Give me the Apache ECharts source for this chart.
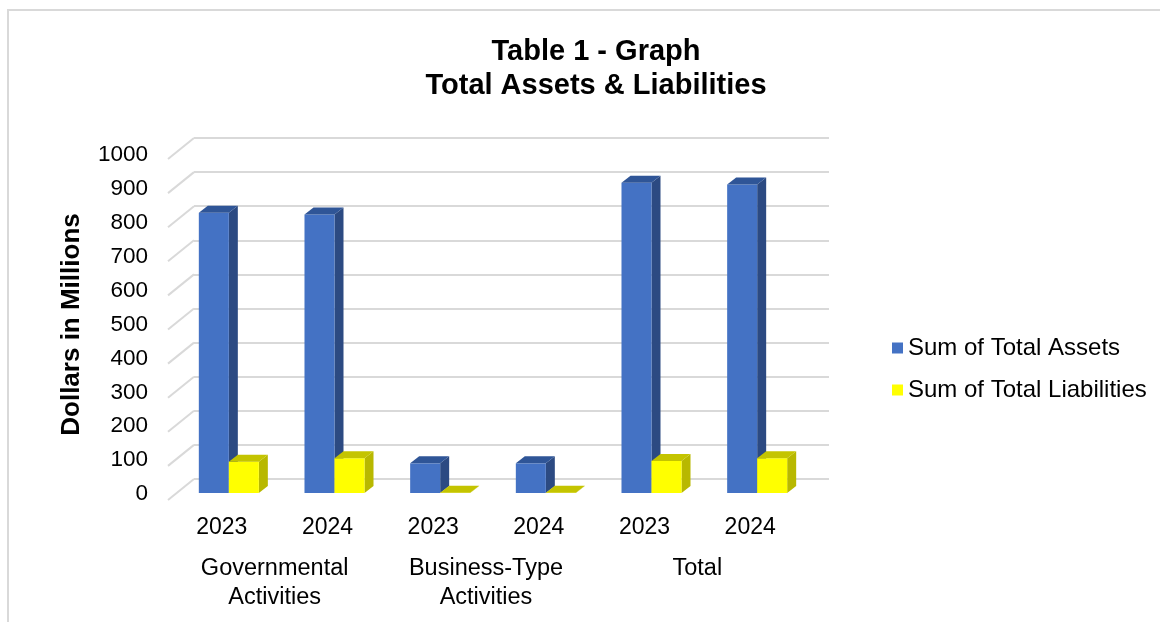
<!DOCTYPE html>
<html>
<head>
<meta charset="utf-8">
<script src="https://cdn.jsdelivr.net/npm/echarts@6/dist/echarts.min.js"></script>
<style>
  html, body { margin: 0; padding: 0; background: #fff; }
  #chart { width: 1160px; height: 622px; }
</style>
</head>
<body>
<div id="chart"></div>
<script>
const years = ['2023', '2024', '2023', '2024', '2023', '2024'];
const groups = ['Governmental\nActivities', 'Business-Type\nActivities', 'Total'];
const totalAssets = [822, 817, 87, 87, 910, 905];
const totalLiabilities = [92, 102, 1, 1, 94, 102];
const yTicks = [0, 100, 200, 300, 400, 500, 600, 700, 800, 900, 1000];

const chart = echarts.init(document.getElementById('chart'));
const font = 'Liberation Sans, Arial, sans-serif';

// depth offset of the fake 3d bars
const DX = 9;
const DY = -7;

const bar3d = (side, front, dark, top) => (params, api) => {
  const base = api.coord([api.value(0), 0]);
  const head = api.coord([api.value(0), api.value(1)]);
  const band = api.size([1, 0])[0];
  const w = band * 0.284;
  const x0 = side < 0 ? base[0] - w : base[0];
  const x1 = x0 + w;
  const y0 = base[1];
  const y1 = head[1];
  return {
    type: 'group',
    children: [
      {
        type: 'polygon',
        shape: { points: [[x1, y0], [x1 + DX, y0 + DY], [x1 + DX, y1 + DY], [x1, y1]] },
        style: { fill: dark }
      },
      {
        type: 'rect',
        shape: { x: x0, y: y1, width: w, height: y0 - y1 },
        style: { fill: front }
      },
      {
        type: 'polygon',
        shape: { points: [[x0, y1], [x0 + DX, y1 + DY], [x1 + DX, y1 + DY], [x1, y1]] },
        style: { fill: top }
      }
    ]
  };
};

const option = {
  animation: false,
  backgroundColor: '#fff',
  title: {
    text: 'Table 1 - Graph\nTotal Assets & Liabilities',
    left: 591,
    top: 30,
    textAlign: 'center',
    textStyle: {
      fontFamily: font,
      fontWeight: 'bold',
      fontSize: 29,
      lineHeight: 34,
      color: '#000'
    }
  },
  graphic: [
    {
      type: 'rect',
      shape: { x: 8, y: 10, width: 1170, height: 640 },
      style: { fill: 'none', stroke: '#d9d9d9', lineWidth: 2 },
      silent: true
    }
  ],
  legend: {
    orient: 'vertical',
    left: 887,
    top: 331,
    itemWidth: 11,
    itemHeight: 11,
    itemGap: 18,
    icon: 'rect',
    textStyle: { fontFamily: font, fontSize: 24, color: '#000' },
    data: [
      { name: 'Sum of Total Assets', itemStyle: { color: '#4472c4' } },
      { name: 'Sum of Total Liabilities', itemStyle: { color: '#ffff00' } }
    ]
  },
  grid: [
    // bar plane
    { left: 176, right: 350, top: 152, bottom: 129 },
    // back wall with gridlines
    { left: 194, right: 331, top: 138, bottom: 143 },
    // front edge where the value labels sit
    { left: 176, right: 350, top: 155, bottom: 128 }
  ],
  xAxis: [
    {
      type: 'category',
      gridIndex: 0,
      data: years,
      axisLine: { show: false },
      axisTick: { show: false },
      axisLabel: {
        fontFamily: font,
        fontSize: 23,
        color: '#000',
        margin: 23,
        padding: [0, 14, 0, 0]
      }
    },
    {
      type: 'category',
      gridIndex: 0,
      position: 'bottom',
      data: groups,
      axisLine: { show: false },
      axisTick: { show: false },
      axisLabel: {
        fontFamily: font,
        fontSize: 23.5,
        lineHeight: 29,
        color: '#000',
        margin: 61,
        padding: [0, 14, 0, 0]
      }
    },
    { type: 'value', gridIndex: 1, min: 0, max: 1, show: false },
    { type: 'value', gridIndex: 2, min: 0, max: 1, show: false }
  ],
  yAxis: [
    {
      type: 'value',
      gridIndex: 0,
      min: 0,
      max: 1000,
      interval: 100,
      show: false
    },
    {
      type: 'value',
      gridIndex: 1,
      min: 0,
      max: 1000,
      interval: 100,
      axisLine: { show: false },
      axisTick: { show: false },
      axisLabel: { show: false },
      splitLine: { lineStyle: { color: '#d9d9d9', width: 2 } }
    },
    {
      type: 'value',
      gridIndex: 2,
      min: 0,
      max: 1000,
      interval: 100,
      name: 'Dollars in Millions',
      nameLocation: 'middle',
      nameRotate: 90,
      nameGap: 91,
      nameTextStyle: { fontFamily: font, fontWeight: 'bold', fontSize: 26, color: '#000' },
      axisLine: { show: false },
      axisTick: { show: false },
      splitLine: { show: false },
      axisLabel: {
        fontFamily: font,
        fontSize: 22.5,
        color: '#000',
        margin: 28,
        formatter: v => String(v)
      }
    }
  ],
  series: [
    {
      // floor/side diagonals from the back wall toward the front
      type: 'custom',
      xAxisIndex: 2,
      yAxisIndex: 1,
      silent: true,
      clip: false,
      data: yTicks.map(v => [0, v]),
      renderItem: (params, api) => {
        const p = api.coord([0, api.value(1)]);
        return {
          type: 'line',
          shape: { x1: p[0], y1: p[1], x2: p[0] - 26, y2: p[1] + 21 },
          style: { stroke: '#d9d9d9', lineWidth: 2 }
        };
      }
    },
    {
      name: 'Sum of Total Assets',
      type: 'custom',
      xAxisIndex: 0,
      yAxisIndex: 0,
      itemStyle: { color: '#4472c4' },
      data: totalAssets.map((v, i) => [i, v]),
      renderItem: bar3d(-1, '#4472c4', '#2c4a82', '#2f5597')
    },
    {
      name: 'Sum of Total Liabilities',
      type: 'custom',
      xAxisIndex: 0,
      yAxisIndex: 0,
      itemStyle: { color: '#ffff00' },
      data: totalLiabilities.map((v, i) => [i, v]),
      renderItem: bar3d(1, '#ffff00', '#b8b800', '#c4c400')
    }
  ]
};

chart.setOption(option);
</script>
</body>
</html>
